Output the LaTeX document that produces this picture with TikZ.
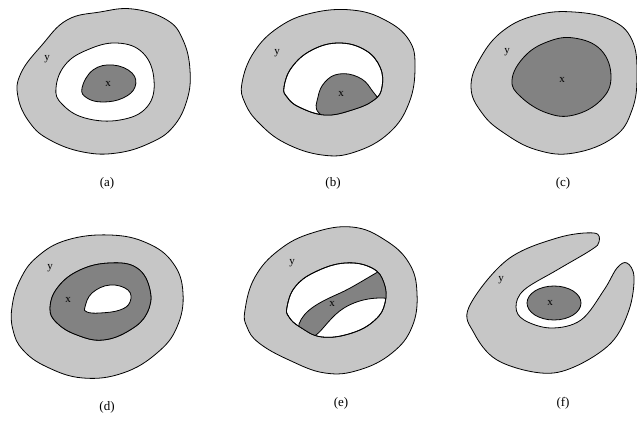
\documentclass[tikz,border=0pt]{standalone}
\usepackage{fontspec}
\setmainfont{Liberation Serif}
\definecolor{lightg}{RGB}{198,198,198}
\definecolor{darkg}{RGB}{130,130,130}
\tikzset{
  ring/.style={fill=lightg, draw=black, line width=0.8pt, even odd rule},
  core/.style={fill=darkg, draw=black, line width=0.8pt},
  holeline/.style={draw=black, line width=0.8pt},
  lab/.style={font=\fontsize{11}{12}\selectfont, inner sep=0pt},
  captext/.style={font=\fontsize{13}{14}\selectfont, inner sep=0pt}
}
\begin{document}
\begin{tikzpicture}[x=1pt,y=-1pt]
\useasboundingbox (0,0) rectangle (637,421);

% ---------- (a)
\path[ring] plot[smooth cycle, tension=0.7] coordinates {(67,20)(100,12)(133,9)(167,20)(183,40)(190,70)(187,100)(173,127)(150,143)(117,153)(83,152)(50,140)(30,123)(18,97)(21,73)(42,45)}
  plot[smooth cycle, tension=0.7] coordinates {(56,88)(65,65)(87,50)(117,43)(143,53)(154,80)(147,107)(120,120)(85,118)(62,104)};
\path[core] plot[smooth cycle, tension=0.7] coordinates {(82,88)(93,70)(113,65)(132,73)(135,87)(123,98)(103,102)(87,98)};
\node[lab] (ya) at (47,59) {y};
\node[lab] (xa) at (108,84) {x};
\node[captext] (capa) at (107,183) {(a)};

% ---------- (b)
\path[ring] plot[smooth cycle, tension=0.7] coordinates {(242,83)(254,52)(279,27)(312,13)(352,10)(385,20)(409,40)(415,67)(409,103)(389,133)(355,152)(322,155)(285,143)(259,123)(245,103)}
  plot[smooth cycle, tension=0.7] coordinates {(284,87)(292,67)(312,50)(339,43)(365,50)(380,67)(382,87)(374,100)(352,110)(325,115)(299,107)(287,97)};
\begin{scope}
  \clip plot[smooth cycle, tension=0.7] coordinates {(284,87)(292,67)(312,50)(339,43)(365,50)(380,67)(382,87)(374,100)(352,110)(325,115)(299,107)(287,97)};
  \path[core] plot[smooth cycle, tension=0.7] coordinates {(319,113)(318,97)(325,82)(339,74)(358,77)(371,89)(378,108)(345,125)};
\end{scope}
\path[holeline] plot[smooth cycle, tension=0.7] coordinates {(284,87)(292,67)(312,50)(339,43)(365,50)(380,67)(382,87)(374,100)(352,110)(325,115)(299,107)(287,97)};
\node[lab] (yb) at (277,53) {y};
\node[lab] (xb) at (341,94) {x};
\node[captext] (capb) at (333,183) {(b)};

% ---------- (c)
\path[ring] plot[smooth cycle, tension=0.7] coordinates {(471,87)(481,57)(504,30)(537,15)(574,12)(611,20)(632,40)(637,75)(632,110)(614,137)(574,153)(537,150)(504,133)(482,113)};
\path[core] plot[smooth cycle, tension=0.7] coordinates {(512,80)(524,57)(547,42)(574,38)(601,50)(611,77)(601,100)(574,115)(547,113)(521,97)};
\node[lab] (yc) at (507,52) {y};
\node[lab] (xc) at (562,80) {x};
\node[captext] (capc) at (563,183) {(c)};

% ---------- (d)
\path[ring] plot[smooth cycle, tension=0.7] coordinates {(12,307)(20,280)(37,257)(67,240)(110,235)(147,243)(173,263)(183,293)(177,327)(157,353)(123,373)(83,378)(47,367)(23,350)(13,330)}
  plot[smooth cycle, tension=0.7] coordinates {(50,308)(58,287)(80,270)(110,263)(137,268)(150,290)(147,313)(130,330)(103,340)(77,335)(57,323)};
\path[core, even odd rule] plot[smooth cycle, tension=0.7] coordinates {(50,308)(58,287)(80,270)(110,263)(137,268)(150,290)(147,313)(130,330)(103,340)(77,335)(57,323)}
  plot[smooth cycle, tension=0.7] coordinates {(85,307)(92,293)(110,285)(128,290)(130,302)(120,310)(100,313)(87,312)};
\node[lab] (yd) at (50,268) {y};
\node[lab] (xd) at (68,300) {x};
\node[captext] (capd) at (107,407) {(d)};

% ---------- (e)
\path[ring] plot[smooth cycle, tension=0.7] coordinates {(245,310)(255,277)(279,250)(312,233)(352,227)(385,240)(409,263)(417,293)(412,327)(392,353)(359,370)(325,373)(289,360)(259,343)(247,327)}
  plot[smooth cycle, tension=0.7] coordinates {(287,307)(295,287)(315,272)(345,263)(372,268)(384,283)(385,303)(375,320)(352,333)(322,337)(300,327)(289,317)};
\begin{scope}
  \clip plot[smooth cycle, tension=0.7] coordinates {(287,307)(295,287)(315,272)(345,263)(372,268)(384,283)(385,303)(375,320)(352,333)(322,337)(300,327)(289,317)};
  \path[core] (299,324) .. controls (304,310) and (320,302) .. (338,294)
    .. controls (354,287) and (368,277) .. (392,264) -- (398,300)
    .. controls (376,295) and (357,300) .. (344,308)
    .. controls (331,316) and (323,330) .. (316,335)
    .. controls (308,339) and (298,333) .. (299,324) -- cycle;
\end{scope}
\path[holeline] plot[smooth cycle, tension=0.7] coordinates {(287,307)(295,287)(315,272)(345,263)(372,268)(384,283)(385,303)(375,320)(352,333)(322,337)(300,327)(289,317)};
\node[lab] (ye) at (292,263) {y};
\node[lab] (xe) at (332,304) {x};
\node[captext] (cape) at (341,403) {(e)};

% ---------- (f)
\path[ring] plot[smooth cycle, tension=0.6] coordinates {(469,307)(474,333)(497,360)(541,373)(574,367)(611,343)(629,310)(634,277)(627,263)(617,268)(604,290)(581,320)(551,328)(524,320)(516,307)(524,290)(557,270)(591,250)(599,242)(594,233)(557,238)(507,260)};
\path[core] (554,303) ellipse [x radius=27, y radius=17];
\node[lab] (yf) at (501,280) {y};
\node[lab] (xf) at (550,303) {x};
\node[captext] (capf) at (563,403) {(f)};
\end{tikzpicture}
\end{document}
